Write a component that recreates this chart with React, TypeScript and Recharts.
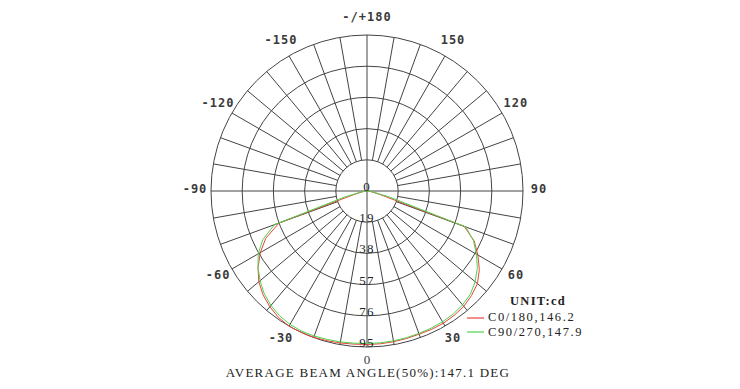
import React from 'react';
import { RadarChart, Radar, PolarGrid, PolarAngleAxis, PolarRadiusAxis, Legend } from 'recharts';

// gamma angles (deg, 0 = straight down) where light was measured
const gammaAngles = [
  -90, -85, -80, -75, -70, -65, -60, -55, -50, -45, -40, -35, -30, -25, -20, -15, -10, -5,
  0, 5, 10, 15, 20, 25, 30, 35, 40, 45, 50, 55, 60, 65, 70, 75, 80, 85, 90,
];

// C0/180 plane, cd
const c0Values = [
  0, 1, 3, 8, 57, 68, 75, 81, 86, 89.5, 92, 94, 95, 95, 94.8, 94.4, 94, 93.6,
  93.5, 93.4, 93.2, 93, 92.8, 93, 93, 92.5, 91.7, 90, 87.8, 83.5, 78, 72, 63, 8, 3, 1, 0,
];

// C90/270 plane, cd
const c90Values = [
  0, 1, 4, 14, 60, 70, 76.5, 81, 85, 88.5, 91, 92.8, 93.8, 94.2, 94, 93.6, 93.3, 93,
  92.9, 92.8, 92.7, 92.5, 92.3, 92.2, 92, 91.5, 90.5, 89, 86, 82, 77, 71.5, 64, 14, 4, 1, 0,
];

// full turn of categories, clockwise on screen from the bottom (bottom -> left -> top -> right)
const circleAngles = [
  0, -5, -10, -15, -20, -25, -30, -35, -40, -45, -50, -55, -60, -65, -70, -75, -80, -85, -90,
  -95, -100, -105, -110, -115, -120, -125, -130, -135, -140, -145, -150, -155, -160, -165, -170, -175, 180,
  175, 170, 165, 160, 155, 150, 145, 140, 135, 130, 125, 120, 115, 110, 105, 100, 95,
  90, 85, 80, 75, 70, 65, 60, 55, 50, 45, 40, 35, 30, 25, 20, 15, 10, 5,
];

const angleLabels = [0, 30, 60, 90, 120, 150, 180, -150, -120, -90, -60, -30];
const ringTicks = [0, 19, 38, 57, 76, 95];

const seriesNames = ['C0/180,146.2', 'C90/270,147.9'];
const unitLabel = 'UNIT:cd';
const title = 'AVERAGE BEAM ANGLE(50%):147.1 DEG';

// nothing is emitted above the horizontal, so those angles read 0
const table = circleAngles.map((angle) => {
  const i = gammaAngles.indexOf(angle);
  return { angle, c0: i >= 0 ? c0Values[i] : 0, c90: i >= 0 ? c90Values[i] : 0 };
});

const W = 740;
const H = 389;
const CX = 367;
const CY = 191;
const R = 156;
const GRID = '#444';
const RED = '#e8463c';
const GREEN = '#4fd44f';
const SERIF = '"Liberation Serif", serif';
const SANS_MONO = '"DejaVu Sans Mono", monospace';
const noMargin = { top: 0, right: 0, bottom: 0, left: 0 };
const seriesColors = [RED, GREEN];

// grid spokes every 10 deg, the main cross is drawn separately through the centre
const spokeAngles = Array.from({ length: 36 }, (_, i) => i * 10).filter((a) => a % 90 !== 0);

function AngleTick({ x, y, payload }: any) {
  const v = payload?.value;
  if (!angleLabels.includes(v)) return null;
  const zero = v === 0;
  const text = v === 180 ? '-/+180' : String(v);
  return (
    <text
      x={x}
      y={zero ? y - 4 : y - 2}
      textAnchor="middle"
      dominantBaseline="central"
      fontFamily={zero ? SERIF : SANS_MONO}
      fontSize={zero ? 13 : 12}
      fontWeight={zero ? 'normal' : 'bold'}
      letterSpacing={zero ? 0 : 1}
      fill="#3a3a3a"
    >
      {text}
    </text>
  );
}

function RingTick({ x, y, payload }: any) {
  return (
    <text x={x} y={y} textAnchor="middle" fontFamily={SERIF} fontSize={13} letterSpacing={1.2} fill="#222">
      {payload?.value}
    </text>
  );
}

function UnitLegend({ payload }: any) {
  return (
    <div style={{ fontFamily: SERIF, fontSize: 12.5, color: '#222', letterSpacing: 1.6 }}>
      <div style={{ height: 16.5, lineHeight: '15px', marginLeft: 43, fontWeight: 'bold', letterSpacing: 1.3 }}>
        {unitLabel}
      </div>
      {(payload || []).map((item: any, i: number) => (
        <div key={item.value} style={{ height: 14.5, lineHeight: '15px', display: 'flex', alignItems: 'center' }}>
          <svg width={17} height={4} style={{ marginRight: 4, flex: 'none' }}>
            <line x1={0} y1={2} x2={17} y2={2} stroke={seriesColors[i]} strokeWidth={1.2} />
          </svg>
          <span>{item.value}</span>
        </div>
      ))}
    </div>
  );
}

export default function App() {
  return (
    <div style={{ position: 'absolute', left: 0, top: 0, width: W, height: H, background: '#fff' }}>
      <div style={{ position: 'absolute', left: 0, top: 0 }}>
        <RadarChart
          width={W}
          height={H}
          data={table}
          cx={CX}
          cy={CY}
          innerRadius={R / 5}
          outerRadius={R}
          startAngle={-90}
          endAngle={-450}
          margin={noMargin}
        >
          <PolarGrid gridType="circle" polarAngles={spokeAngles} polarRadius={[]} stroke={GRID} strokeWidth={1} />
        </RadarChart>
      </div>
      <div style={{ position: 'absolute', left: 0, top: 0 }}>
        <RadarChart
          width={W}
          height={H}
          data={table}
          cx={CX}
          cy={CY}
          innerRadius={0}
          outerRadius={R}
          startAngle={-90}
          endAngle={-450}
          margin={noMargin}
        >
          <PolarGrid gridType="circle" polarAngles={[-90, 0, 90, 180]} stroke={GRID} strokeWidth={1} />
          <PolarAngleAxis dataKey="angle" axisLine={false} tickLine={false} tickSize={16} tick={<AngleTick />} />
          <PolarRadiusAxis
            type="number"
            angle={-90}
            domain={[0, 95]}
            ticks={ringTicks}
            axisLine={false}
            tick={<RingTick />}
          />
          <Radar
            dataKey="c0"
            name={seriesNames[0]}
            stroke={RED}
            strokeWidth={1}
            fill="none"
            dot={false}
            isAnimationActive={false}
          />
          <Radar
            dataKey="c90"
            name={seriesNames[1]}
            stroke={GREEN}
            strokeWidth={1}
            fill="none"
            dot={false}
            isAnimationActive={false}
          />
          <Legend
            content={<UnitLegend />}
            width={150}
            wrapperStyle={{ left: 467, top: 294, width: 150 }}
          />
        </RadarChart>
      </div>
      <div
        style={{
          position: 'absolute',
          left: 0,
          top: 367,
          width: 736,
          textAlign: 'center',
          fontFamily: SERIF,
          fontSize: 13,
          lineHeight: '12px',
          letterSpacing: 1.25,
          color: '#222',
        }}
      >
        {title}
      </div>
    </div>
  );
}
